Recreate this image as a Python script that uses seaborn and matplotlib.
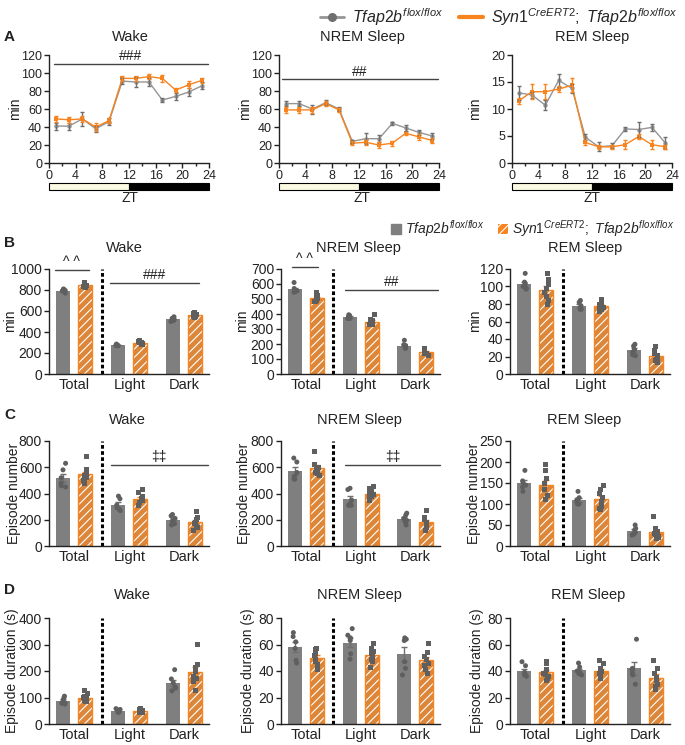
"""Tfap2b neuronal knockout: hourly sleep/wake time course and period totals."""

import matplotlib
matplotlib.use("Agg")
import matplotlib.pyplot as plt
import numpy as np
import pandas as pd
import seaborn as sns
from matplotlib.lines import Line2D
from matplotlib.patches import Patch, Rectangle

# ---------------------------------------------------------------- data
ZT = [1, 3, 5, 7, 9, 11, 13, 15, 17, 19, 21, 23]

# A: hourly means (min per 2 h) and SEM
WAKE_WT = [41, 41, 49, 38, 46, 91, 90, 90, 70, 74, 79, 86]
WAKE_WT_SEM = [4, 4, 8, 3, 4, 3, 6, 4, 2, 4, 4, 4]
WAKE_KO = [49, 48, 49, 40, 47, 94, 94, 96, 94, 81, 87, 92]
WAKE_KO_SEM = [3, 3, 3, 4, 3, 3, 3, 3, 4, 2, 4, 3]
NREM_WT = [66, 66, 60, 67, 60, 24, 27, 27, 44, 39, 34, 30]
NREM_WT_SEM = [3, 3, 5, 3, 2, 2, 6, 4, 2, 3, 3, 3]
NREM_KO = [59, 59, 59, 66, 59, 22, 23, 20, 22, 33, 29, 25]
NREM_KO_SEM = [3, 3, 3, 3, 2, 2, 3, 3, 3, 2, 3, 3]
REM_WT = [13, 12.6, 10.7, 15.3, 13.8, 4.8, 3.0, 3.2, 6.3, 6.2, 6.6, 3.7]
REM_WT_SEM = [1.3, 0.5, 0.9, 1.2, 0.8, 0.6, 0.8, 0.5, 0.4, 1.4, 0.6, 1.1]
REM_KO = [11.5, 13.2, 13.2, 13.7, 14.4, 3.8, 3.0, 3.0, 3.4, 4.9, 3.4, 3.0]
REM_KO_SEM = [0.5, 1.4, 1.4, 0.5, 1.3, 0.4, 0.4, 0.4, 0.8, 0.5, 0.8, 0.4]

PERIODS = ["Total", "Light", "Dark"]
GENO = ["WT", "KO"]

# B: time spent (min), one value per mouse, per period
B_WAKE_WT = [[810, 800, 790, 805, 770, 795], [285, 280, 270, 268, 275, 272],
             [545, 530, 520, 510, 500, 515]]
B_WAKE_KO = [[870, 860, 850, 845, 835, 830, 825, 845], [320, 310, 300, 295, 290, 285, 280, 304],
             [590, 580, 570, 560, 555, 545, 535, 545]]
B_NREM_WT = [[610, 570, 560, 555, 550, 545], [395, 390, 380, 375, 370, 370],
             [225, 195, 190, 185, 175, 170]]
B_NREM_KO = [[540, 525, 515, 505, 500, 490, 480, 485], [400, 365, 355, 345, 340, 335, 330, 330],
             [170, 165, 160, 155, 150, 140, 135, 125]]
B_REM_WT = [[115, 105, 103, 100, 98, 97], [84, 82, 78, 76, 74, 74], [34, 32, 28, 25, 22, 21]]
B_REM_KO = [[115, 108, 102, 98, 93, 88, 84, 80], [85, 82, 80, 78, 77, 76, 74, 72],
            [32, 27, 24, 21, 19, 17, 15, 13]]

# C: episode number
C_WAKE_WT = [[630, 580, 520, 480, 460, 450], [380, 360, 310, 290, 280, 270],
             [240, 230, 210, 190, 170, 160]]
C_WAKE_KO = [[680, 580, 560, 540, 520, 500, 480, 500], [430, 410, 380, 360, 350, 330, 310, 310],
             [260, 220, 200, 180, 170, 150, 140, 120]]
C_NREM_WT = [[670, 640, 560, 530, 510, 510], [440, 430, 350, 320, 310, 310],
             [250, 235, 210, 195, 180, 160]]
C_NREM_KO = [[720, 620, 600, 590, 580, 560, 540, 550], [450, 440, 420, 400, 390, 380, 370, 350],
             [270, 220, 200, 180, 160, 150, 140, 120]]
C_REM_WT = [[180, 155, 150, 145, 140, 130], [130, 115, 110, 105, 100, 100], [50, 42, 38, 32, 28, 26]]
C_REM_KO = [[195, 180, 160, 150, 135, 120, 110, 110], [145, 135, 125, 115, 105, 95, 90, 86],
            [70, 42, 35, 30, 27, 23, 20, 17]]

# D: episode duration (s)
D_WAKE_WT = [[105, 100, 90, 80, 78, 75], [58, 55, 50, 48, 45, 44], [205, 170, 155, 140, 135, 125]]
D_WAKE_KO = [[125, 115, 105, 100, 95, 90, 85, 85], [58, 55, 52, 50, 49, 47, 45, 44],
             [300, 225, 215, 200, 180, 170, 160, 126]]
D_NREM_WT = [[69, 66, 62, 57, 48, 46], [72, 67, 65, 63, 53, 49], [65, 64, 63, 47, 42, 37]]
D_NREM_KO = [[57, 56, 53, 52, 49, 47, 45, 41], [61, 57, 55, 53, 51, 49, 47, 43],
             [61, 54, 51, 49, 46, 44, 41, 38]]
D_REM_WT = [[47, 44, 39, 37, 37, 36], [46, 43, 40, 39, 38, 37], [64, 42, 41, 38, 37, 30]]
D_REM_KO = [[47, 46, 41, 38, 37, 36, 34, 33], [48, 46, 42, 40, 38, 37, 35, 34],
            [48, 42, 38, 35, 33, 30, 28, 26]]

WT_LABEL = r"$\mathit{Tfap2b}^{\mathit{flox/flox}}$"
KO_LABEL = r"$\mathit{Syn1}^{\mathit{CreERT2}}\mathit{;\ Tfap2b}^{\mathit{flox/flox}}$"

GRAY = "#7f7f7f"
GRAY_LINE = "#959595"
ORANGE = "#f7841e"
DOT = "#5f5f5f"
INK = "#222222"

# ---------------------------------------------------------------- style
sns.set_theme(style="ticks")
plt.rcParams["font.family"] = ["Liberation Sans", "DejaVu Sans"]
plt.rcParams["mathtext.fontset"] = "custom"
plt.rcParams["mathtext.it"] = "Liberation Sans:italic"
plt.rcParams["mathtext.rm"] = "Liberation Sans"
plt.rcParams["hatch.linewidth"] = 0.8
np.random.seed(3)

W, H = 685, 745
fig = plt.figure(figsize=(W / 100, H / 100), dpi=100)


def add_ax(x0, x1, y0, y1):
    return fig.add_axes([x0 / W, 1 - y1 / H, (x1 - x0) / W, (y1 - y0) / H])


def ftext(x, y, s, **kw):
    kw.setdefault("color", INK)
    fig.text(x / W, 1 - y / H, s, **kw)


def style(ax, size):
    sns.despine(ax=ax)
    for side in ("left", "bottom"):
        ax.spines[side].set_linewidth(1.0)
        ax.spines[side].set_color(INK)
    ax.tick_params(axis="both", labelsize=size, width=1.0, length=3.5, colors=INK, pad=1.5)
    ax.set_xlabel("")
    ax.set_ylabel("")


def sig(ax, x0, x1, y, text, size=10):
    ax.plot([x0, x1], [y, y], color="#444", lw=1, clip_on=False)
    ax.annotate(text, xy=((x0 + x1) / 2, y), xytext=(0, 0.5), textcoords="offset points",
                ha="center", va="bottom", fontsize=size, color=INK, annotation_clip=False)


def time_panel(ax, wt, wt_sem, ko, ko_sem, ymax, ystep):
    df = pd.DataFrame({"ZT": ZT * 2, "min": wt + ko, "geno": ["WT"] * len(ZT) + ["KO"] * len(ZT)})
    sns.lineplot(data=df, x="ZT", y="min", hue="geno", style="geno", hue_order=GENO,
                 style_order=GENO, palette=[GRAY_LINE, ORANGE], markers=["o", "s"], dashes=False,
                 markersize=3.2, markeredgewidth=0, linewidth=1.0, legend=False, ax=ax)
    ax.errorbar(ZT, wt, yerr=wt_sem, fmt="none", ecolor="#6f6f6f", elinewidth=1, capsize=1.5)
    ax.errorbar(ZT, ko, yerr=ko_sem, fmt="none", ecolor=ORANGE, elinewidth=1, capsize=1.5)
    ax.set_xlim(0, 24)
    ax.set_ylim(0, ymax)
    ax.set_xticks(range(0, 25, 4))
    ax.set_xticks(range(2, 24, 4), minor=True)
    ax.set_yticks(np.arange(0, ymax + 0.1, ystep))
    style(ax, 9)
    ax.tick_params(axis="x", which="minor", length=2.5, width=1.0, colors=INK)
    tr = ax.get_xaxis_transform()
    ax.add_patch(Rectangle((0, -0.25), 12, 0.065, transform=tr, clip_on=False,
                           fc="#fbfbe3", ec="black", lw=0.8))
    ax.add_patch(Rectangle((12, -0.25), 12, 0.065, transform=tr, clip_on=False,
                           fc="black", ec="black", lw=0.8))


def bar_panel(ax, wt_pts, ko_pts, ymax, ystep, size=10):
    rows = [(p, "WT", v) for p, vals in zip(PERIODS, wt_pts) for v in vals]
    rows += [(p, "KO", v) for p, vals in zip(PERIODS, ko_pts) for v in vals]
    df = pd.DataFrame(rows, columns=["period", "geno", "value"])
    sns.barplot(data=df, x="period", y="value", hue="geno", order=PERIODS, hue_order=GENO,
                palette=[GRAY, ORANGE], errorbar=None, width=0.8, gap=0.36, linewidth=0,
                legend=False, ax=ax)
    for bar in list(ax.patches):
        cx = bar.get_x() + bar.get_width() / 2
        if cx - round(cx) > 0:
            bar.set_hatch("////")
            bar.set_edgecolor("white")
            bar.set_linewidth(0)
            ax.add_patch(Rectangle(bar.get_xy(), bar.get_width(), bar.get_height(), fill=False,
                                   ec=ORANGE, lw=1.0, zorder=bar.get_zorder() + 0.1))
    stats = df.groupby(["geno", "period"])["value"].agg(["mean", "sem"])
    for g, dx, col in (("WT", -0.2, "#6f6f6f"), ("KO", 0.2, ORANGE)):
        m = stats.loc[g].reindex(PERIODS)
        ax.errorbar(np.arange(3) + dx, m["mean"], yerr=m["sem"], fmt="none", ecolor=col,
                    elinewidth=1, capsize=2.5, capthick=1, zorder=3)
    for g, mk in zip(GENO, ["o", "s"]):
        sns.stripplot(data=df[df.geno == g], x="period", y="value", hue="geno", order=PERIODS,
                      hue_order=GENO, palette=[DOT, DOT], dodge=True, jitter=0.09, marker=mk,
                      size=3.6, linewidth=0, legend=False, ax=ax, zorder=4)
    ax.axvline(0.5, color="black", lw=2.2, ls=(0, (1.2, 0.8)), zorder=2)
    ax.set_xlim(-0.46, 2.45)
    ax.set_ylim(0, ymax)
    ax.set_yticks(np.arange(0, ymax + 0.1, ystep))
    style(ax, size)
    ax.tick_params(axis="x", length=0, labelsize=10.5, pad=3)


# ---------------------------------------------------------------- row A
COLS_A = [(49, 209), (279, 439), (512, 672)]
COLS = [(49, 209), (281, 440), (510, 670)]

axA = [add_ax(x0, x1, 55, 163) for x0, x1 in COLS_A]
time_panel(axA[0], WAKE_WT, WAKE_WT_SEM, WAKE_KO, WAKE_KO_SEM, 120, 20)
time_panel(axA[1], NREM_WT, NREM_WT_SEM, NREM_KO, NREM_KO_SEM, 120, 20)
time_panel(axA[2], REM_WT, REM_WT_SEM, REM_KO, REM_KO_SEM, 20, 5)
sig(axA[0], 0.8, 23.8, 110, "###")
sig(axA[1], 0.5, 23.8, 93, "##")

# ---------------------------------------------------------------- rows B-D
axB = [add_ax(x0, x1, 269, 374) for x0, x1 in COLS]
bar_panel(axB[0], B_WAKE_WT, B_WAKE_KO, 1000, 200, 10)
bar_panel(axB[1], B_NREM_WT, B_NREM_KO, 700, 100, 10)
bar_panel(axB[2], B_REM_WT, B_REM_KO, 120, 20, 10)
sig(axB[0], -0.35, 0.26, 990, "^ ^")
sig(axB[0], 0.65, 2.26, 867, "###")
sig(axB[1], -0.26, 0.21, 713, "^ ^")
sig(axB[1], 0.71, 2.41, 559, "##")

axC = [add_ax(x0, x1, 441, 546) for x0, x1 in COLS]
bar_panel(axC[0], C_WAKE_WT, C_WAKE_KO, 800, 200)
bar_panel(axC[1], C_NREM_WT, C_NREM_KO, 800, 200)
bar_panel(axC[2], C_REM_WT, C_REM_KO, 250, 50)
sig(axC[0], 0.66, 2.43, 617, "\u2021\u2021")
sig(axC[1], 0.71, 2.45, 617, "\u2021\u2021")

axD = [add_ax(x0, x1, 618, 724) for x0, x1 in COLS]
bar_panel(axD[0], D_WAKE_WT, D_WAKE_KO, 400, 100)
bar_panel(axD[1], D_NREM_WT, D_NREM_KO, 80, 20)
bar_panel(axD[2], D_REM_WT, D_REM_KO, 80, 20)

# ---------------------------------------------------------------- text
titles = ["Wake", "NREM Sleep", "REM Sleep"]
for row_y, xs in ((37, (130, 362, 592)), (248, (124, 358, 585)),
                  (420, (127, 359, 584)), (595, (132, 359, 588))):
    for x, t in zip(xs, titles):
        ftext(x, row_y, t, ha="center", va="center", fontsize=10.5)

for x in (130, 362, 592):
    ftext(x, 198, "ZT", ha="center", va="center", fontsize=10)

for letter, y in (("A", 37), ("B", 243), ("C", 415), ("D", 590)):
    ftext(4, y, letter, ha="left", va="center", fontsize=11, fontweight="bold")

for xs, y, lab in (((15, 245, 475), 109, "min"), ((10, 242, 475), 321, "min"),
                   ((14, 244, 474), 493, "Episode number"),
                   ((12, 248, 477), 671, "Episode duration (s)")):
    for x in xs:
        ftext(x, y, lab, ha="center", va="center", rotation=90, fontsize=10)

# ---------------------------------------------------------------- legends
top_handles = [Line2D([], [], color=GRAY_LINE, marker="o", markersize=5.5, mfc="#6f6f6f",
                      mec="#6f6f6f", lw=2),
               Line2D([], [], color=ORANGE, lw=3)]
fig.legend(top_handles, [WT_LABEL, KO_LABEL], loc="upper right", bbox_to_anchor=(684 / W, 1.0),
           ncol=2, frameon=False, fontsize=11.5, handlelength=1.5, handletextpad=0.5,
           columnspacing=1.0, borderaxespad=0)

bar_handles = [Patch(fc=GRAY, ec=GRAY), Patch(fc=ORANGE, ec="white", hatch="////", lw=0)]
fig.legend(bar_handles, [WT_LABEL, KO_LABEL], loc="center right",
           bbox_to_anchor=(680 / W, 1 - 229 / H), ncol=2, frameon=False, fontsize=10,
           handlelength=0.7, handleheight=0.7, handletextpad=0.3, columnspacing=1.0,
           borderaxespad=0)

fig.savefig("out.png", dpi=100)
